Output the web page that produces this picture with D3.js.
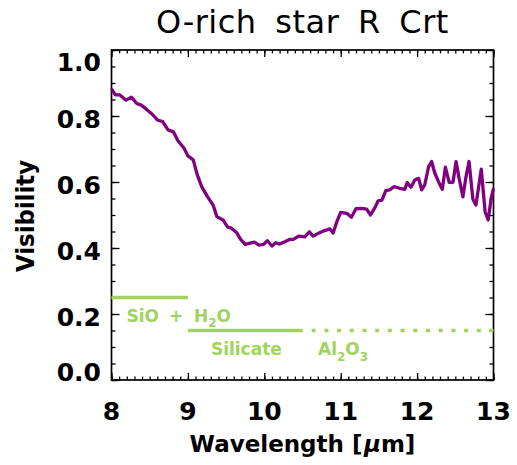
<!DOCTYPE html>
<html><head><meta charset="utf-8">
<script src="https://cdn.jsdelivr.net/npm/d3@7"></script>
<style>body{margin:0;background:#fff}</style>
</head><body><svg id="c" width="517" height="465"></svg>
<script>
// ---- data ----
const wavelength = [8.00, 8.05, 8.11, 8.19, 8.26, 8.33, 8.39, 8.46, 8.53, 8.60, 8.67, 8.74, 8.81, 8.87, 8.95,
  9.00, 9.07, 9.12, 9.18, 9.25, 9.33, 9.38, 9.46, 9.52, 9.57, 9.64, 9.69, 9.75, 9.80, 9.87, 9.93, 9.99,
  10.04, 10.10, 10.15, 10.20, 10.27, 10.33, 10.38, 10.45, 10.53, 10.59, 10.64, 10.71, 10.78, 10.86, 10.90, 10.95,
  11.00, 11.08, 11.14, 11.20, 11.27, 11.34, 11.39, 11.45, 11.49, 11.54, 11.59, 11.64, 11.70, 11.77, 11.84, 11.87,
  11.92, 11.97, 12.02, 12.06, 12.10, 12.15, 12.19, 12.23, 12.28, 12.33, 12.37, 12.42, 12.47, 12.51, 12.55, 12.60,
  12.64, 12.68, 12.73, 12.77, 12.84, 12.89, 12.93, 12.97, 13.00];
const visibility = [0.882, 0.864, 0.864, 0.848, 0.857, 0.838, 0.833, 0.820, 0.806, 0.788, 0.783, 0.758, 0.752, 0.725, 0.702,
  0.679, 0.667, 0.624, 0.586, 0.558, 0.530, 0.495, 0.485, 0.463, 0.460, 0.446, 0.426, 0.411, 0.414, 0.418, 0.409, 0.411,
  0.422, 0.406, 0.416, 0.412, 0.419, 0.426, 0.426, 0.436, 0.434, 0.449, 0.436, 0.445, 0.452, 0.458, 0.445, 0.480,
  0.508, 0.505, 0.493, 0.519, 0.520, 0.518, 0.500, 0.523, 0.543, 0.545, 0.574, 0.576, 0.586, 0.581, 0.578, 0.598,
  0.584, 0.606, 0.611, 0.576, 0.591, 0.646, 0.662, 0.628, 0.601, 0.578, 0.645, 0.599, 0.599, 0.662, 0.611, 0.555,
  0.616, 0.662, 0.548, 0.530, 0.639, 0.510, 0.485, 0.551, 0.581];
const xTickValues = [8, 9, 10, 11, 12, 13];
const xTickLabels = ["8", "9", "10", "11", "12", "13"];
const yTickValues = [0.0, 0.2, 0.4, 0.6, 0.8, 1.0];
const yTickLabels = ["0.0", "0.2", "0.4", "0.6", "0.8", "1.0"];
const bandNames = ["SiO + H2O", "Silicate", "Al2O3"];
const bandStart = [8, 9, 10.5];
const bandEnd = [9, 10.5, 13];
const bandLevel = [0.25, 0.15, 0.15];

// ---- layout ----
const L = 111.5, R = 493.5, T = 50, B = 380;
const purple = "#800080", green = "#a0d45c";
const FONT = "'DejaVu Sans', 'Liberation Sans', sans-serif";
const svg = d3.select("#c");
const x = d3.scaleLinear().domain([8, 13]).range([L, R]);
const y = d3.scaleLinear().domain([0, 1]).range([B, T]);

// ticks
const minorX = d3.range(80, 131).map(i => i / 10);
const minorY = d3.range(0, 21).map(i => i * 0.05);
function ax(gen, tx, ty, vals, size) {
  const g = svg.append("g").attr("transform", `translate(${tx},${ty})`)
    .call(gen.tickValues(vals).tickSize(-size).tickFormat(""));
  g.select(".domain").remove();
  g.selectAll("line").attr("stroke", "#000").attr("stroke-width", 1.3);
}
ax(d3.axisBottom(x), 0, B, minorX, 3.4);
ax(d3.axisBottom(x), 0, B, xTickValues, 7);
ax(d3.axisTop(x), 0, T, minorX, 3.4);
ax(d3.axisTop(x), 0, T, xTickValues, 7);
ax(d3.axisLeft(y), L, 0, minorY, 4);
ax(d3.axisLeft(y), L, 0, yTickValues, 8);
ax(d3.axisRight(y), R, 0, minorY, 4);
ax(d3.axisRight(y), R, 0, yTickValues, 8);

svg.append("rect").attr("x", L).attr("y", T).attr("width", R - L).attr("height", B - T)
  .attr("fill", "none").attr("stroke", "#000").attr("stroke-width", 1.7);

// tick labels
svg.append("g").selectAll("text").data(xTickValues).join("text")
  .attr("x", d => x(d)).attr("y", 420).attr("text-anchor", "middle")
  .attr("font-family", FONT).attr("font-weight", "bold").attr("font-size", 25)
  .text((d, i) => xTickLabels[i]);
svg.append("g").selectAll("text").data(yTickValues).join("text")
  .attr("x", 101)
  .attr("y", d => y(d) + (d === 1 ? 12 : d === 0 ? -8 : 3) + 9)
  .attr("text-anchor", "end")
  .attr("font-family", FONT).attr("font-weight", "bold").attr("font-size", 25)
  .text((d, i) => yTickLabels[i]);

// titles
svg.append("text").attr("x", (L + R) / 2).attr("y", 33).attr("text-anchor", "middle")
  .attr("font-family", FONT).attr("font-size", 32).attr("letter-spacing", 0.5).attr("word-spacing", 8)
  .text("O-rich star R Crt");
const xl = svg.append("text").attr("x", (L + R) / 2).attr("y", 452).attr("text-anchor", "middle")
  .attr("font-family", FONT).attr("font-weight", "bold").attr("font-size", 23);
xl.append("tspan").text("Wavelength [");
xl.append("tspan").attr("font-style", "italic").attr("dx", 1.5).text("μ");
xl.append("tspan").text("m]");
svg.append("text").attr("transform", "translate(34,216) rotate(-90)").attr("text-anchor", "middle")
  .attr("font-family", FONT).attr("font-weight", "bold").attr("font-size", 25)
  .attr("textLength", 112).attr("lengthAdjust", "spacingAndGlyphs")
  .text("Visibility");

// band lines
bandNames.forEach((n, i) => {
  const ln = svg.append("line")
    .attr("x1", x(bandStart[i])).attr("x2", x(bandEnd[i]))
    .attr("y1", y(bandLevel[i])).attr("y2", y(bandLevel[i]))
    .attr("stroke", green).attr("stroke-width", 3.3);
  if (n === "Al2O3") ln.attr("stroke-dasharray", "4,8.7").attr("stroke-dashoffset", 3.5);
});
// band labels
const gf = (sel) => sel.attr("font-family", FONT).attr("font-weight", "bold").attr("fill", green).attr("font-size", 17);
gf(svg.append("text").attr("x", x(bandStart[0]) + 15).attr("y", y(bandLevel[0]) + 24.5)).text("SiO");
gf(svg.append("text").attr("x", x(bandStart[0]) + 64.5).attr("y", y(bandLevel[0]) + 24.5).attr("text-anchor", "middle")).text("+");
const h2o = gf(svg.append("text").attr("x", x(bandStart[0]) + 82.5).attr("y", y(bandLevel[0]) + 24.5));
h2o.append("tspan").text("H");
h2o.append("tspan").attr("font-size", 12).attr("dy", 5).text("2");
h2o.append("tspan").attr("dy", -5).text("O");
gf(svg.append("text").attr("x", x(bandStart[1]) + 23).attr("y", y(bandLevel[1]) + 24.5)).text("Silicate");
const al = gf(svg.append("text").attr("x", x(bandStart[2]) + 15.5).attr("y", y(bandLevel[2]) + 24.5));
al.append("tspan").text("Al");
al.append("tspan").attr("font-size", 12).attr("dy", 6).text("2");
al.append("tspan").attr("dy", -6).text("O");
al.append("tspan").attr("font-size", 12).attr("dy", 6).text("3");

// curve
const line = d3.line().x((d, i) => x(wavelength[i])).y(d => y(d));
svg.append("path").datum(visibility).attr("d", line)
  .attr("fill", "none").attr("stroke", purple).attr("stroke-width", 3.3)
  .attr("stroke-linejoin", "round");
</script></body></html>
